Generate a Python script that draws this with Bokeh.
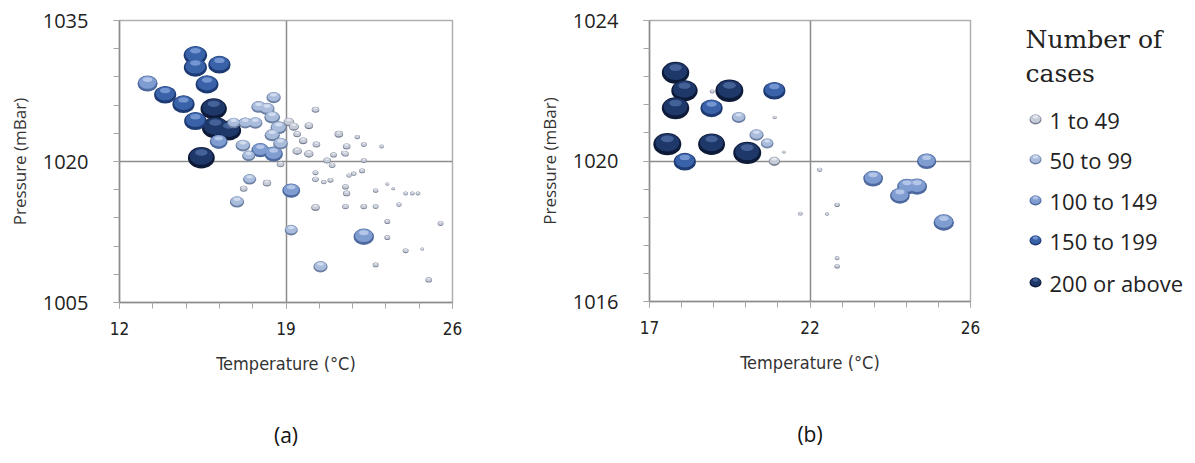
import numpy as np
import pandas as pd
from bokeh.plotting import figure
from bokeh.layouts import row
from bokeh.core.properties import value
from bokeh.models import FixedTicker, Range1d, ColumnDataSource, Title
from bokeh.embed import file_html
from bokeh.resources import INLINE

# ---------------- data ----------------
# Panel (a): temperature (°C), pressure (mBar), number of cases
temp_a = [13.18, 13.92, 14.69, 15.19, 15.19, 16.20, 15.68, 15.96, 15.19, 16.03,
          16.59, 16.17, 15.44,
          18.48, 17.85, 18.20, 18.42, 16.80, 17.29, 17.71, 18.69, 19.12, 19.33,
          18.42, 18.77, 17.19, 17.92, 18.48, 17.43, 18.77, 19.47, 19.72, 19.47,
          19.96, 20.24, 19.96, 20.28, 21.22, 21.55, 21.50, 22.00, 22.27, 23.02,
          21.00, 20.73, 20.94, 22.27, 21.43, 20.24, 20.24, 20.59, 20.87, 21.65,
          21.85, 22.20, 21.50, 21.55, 22.77, 23.26, 23.51, 24.03, 24.31, 24.55,
          23.75, 22.77, 22.27, 21.50, 20.24, 16.94, 17.47, 17.22, 18.20, 19.22,
          19.22, 20.45, 22.27, 23.26, 23.26, 24.03, 24.73, 22.77, 25.00, 25.50]
pres_a = [1028.3, 1027.1, 1026.1, 1031.3, 1030.0, 1030.3, 1028.2, 1025.6, 1024.3, 1023.6,
          1023.3, 1022.1, 1020.4,
          1026.8, 1025.8, 1025.6, 1024.7, 1024.1, 1024.1, 1024.1, 1023.6, 1024.2, 1023.7,
          1022.8, 1021.9, 1021.7, 1021.2, 1020.8, 1020.6, 1019.7, 1022.9, 1022.2, 1021.1,
          1020.8, 1025.5, 1023.8, 1021.8, 1022.9, 1021.6, 1020.8, 1022.6, 1021.8, 1021.6,
          1020.7, 1020.1, 1019.6, 1020.1, 1020.9, 1018.8, 1018.1, 1017.8, 1018.0, 1018.5,
          1018.7, 1019.0, 1017.3, 1016.6, 1016.9, 1017.6, 1017.1, 1016.6, 1016.6, 1016.6,
          1015.4, 1015.2, 1015.2, 1015.2, 1015.1, 1015.7, 1018.1, 1017.1, 1017.7, 1016.9,
          1012.7, 1008.8, 1012.0, 1013.6, 1011.9, 1010.5, 1010.7, 1009.0, 1007.4, 1013.4]
cases_a = [140, 170, 170, 190, 185, 170, 180, 240, 175, 250,
           215, 110, 250,
           70, 75, 80, 85, 60, 65, 70, 90, 40, 35,
           80, 75, 75, 110, 120, 60, 20, 20, 25, 30,
           30, 20, 25, 20, 25, 20, 15, 10, 12, 8,
           15, 20, 15, 12, 12, 12, 15, 10, 12, 10,
           10, 12, 15, 18, 10, 6, 5, 8, 8, 8,
           10, 12, 15, 15, 25, 70, 60, 20, 25, 110,
           60, 70, 145, 12, 12, 12, 5, 12, 15, 12]

# Panel (b)
temp_b = [17.73, 17.98, 17.73, 18.74, 19.24, 20.50, 19.50, 18.76, 20.51, 20.00,
          20.30, 20.50, 20.77, 17.50, 18.74, 19.74, 17.99, 21.77, 21.23, 21.98,
          22.26, 22.26, 22.26, 23.27, 24.02, 24.22, 24.50, 24.77, 25.25]
pres_b = [1022.51, 1022.00, 1021.50, 1021.50, 1022.00, 1022.00, 1021.24, 1021.98, 1021.24, 1020.74,
          1020.50, 1019.99, 1020.25, 1020.48, 1020.48, 1020.23, 1019.98, 1019.75, 1018.50, 1018.49,
          1018.75, 1017.23, 1017.00, 1019.50, 1019.01, 1019.27, 1019.27, 1019.99, 1018.25]
cases_b = [260, 240, 260, 170, 270, 170, 65, 8, 6, 70,
           55, 45, 4, 270, 250, 270, 170, 10, 8, 6,
           10, 8, 10, 135, 135, 135, 140, 130, 145]

categories = ["1 to 49", "50 to 99", "100 to 149", "150 to 199", "200 or above"]
cat_lower = [1, 50, 100, 150, 200]
legend_title = ["Number of", "cases"]

xa_ticks = [12, 19, 26]
ya_ticks = [1005, 1020, 1035]
xb_ticks = [17, 21.5, 26]
xb_tick_labels = ["17", "22", "26"]
yb_ticks = [1016, 1020, 1024]

# ---------------- style ----------------
BASE = ["#c6cbd8", "#a9bcdc", "#809dd1", "#3a62a9", "#1f386a"]
DARK = ["#777f92", "#6c80a4", "#4d69a0", "#1d3a73", "#0d1a38"]
LIGHT = ["#ffffff", "#f3f7fd", "#dde8fb", "#a2c0f2", "#6585bd"]
SIZE_K = 1.7
ASPECT = 0.8
GRID = "#8c8c8c"
NARROW = "'Liberation Sans Narrow', 'DejaVu Sans Condensed', sans-serif"


def bubble_frame(temps, press, cases):
    df = pd.DataFrame(dict(x=temps, y=press, c=cases))
    df["cat"] = np.searchsorted(cat_lower, df["c"], side="right") - 1
    df["w"] = SIZE_K * np.sqrt(df["c"])
    df["h"] = df["w"] * ASPECT
    return df


def draw_bubbles(p, df, ppu_y):
    """3-layer shaded bubbles; ppu_y = screen px per data unit (sign = up)."""
    for ci in reversed(range(len(categories))):
        d = df[df["cat"] == ci].copy()
        if d.empty:
            continue
        d["w_body"] = d["w"] * 0.86
        d["h_body"] = d["h"] * 0.80
        d["y_body"] = d["y"] + 0.07 * d["h"] / ppu_y
        d["w_hl"] = d["w"] * 0.46
        d["h_hl"] = d["h"] * 0.30
        d["y_hl"] = d["y"] + 0.24 * d["h"] / ppu_y
        src = ColumnDataSource(d)
        p.ellipse(x="x", y="y", width="w", height="h", width_units="screen",
                  height_units="screen", source=src, fill_color=DARK[ci],
                  line_color=None)
        p.ellipse(x="x", y="y_body", width="w_body", height="h_body",
                  width_units="screen", height_units="screen", source=src,
                  fill_color=BASE[ci], line_color=None)
        p.ellipse(x="x", y="y_hl", width="w_hl", height="h_hl",
                  width_units="screen", height_units="screen", source=src,
                  fill_color=LIGHT[ci], fill_alpha=0.55, line_color=None)


def make_panel(xt, yt, left, frame_w, frame_h, top, right, x_overrides, tag):
    p = figure(frame_width=frame_w, frame_height=frame_h,
               min_border_left=left, min_border_right=right,
               min_border_top=top, min_border_bottom=463 - top - frame_h,
               x_range=Range1d(xt[0], xt[-1]), y_range=Range1d(yt[0], yt[-1]),
               output_backend="svg", toolbar_location=None)
    p.xaxis.ticker = FixedTicker(ticks=xt, minor_ticks=list(np.linspace(xt[0], xt[-1], 11)))
    p.yaxis.ticker = FixedTicker(ticks=yt, minor_ticks=list(np.linspace(yt[0], yt[-1], 11)))
    if x_overrides:
        p.xaxis.major_label_overrides = x_overrides
    for ax in (p.xaxis[0], p.yaxis[0]):
        ax.axis_line_color = GRID
        ax.axis_line_width = 1.5
        ax.major_tick_line_color = "#a6a6a6"
        ax.minor_tick_line_color = "#a6a6a6"
        ax.major_tick_in = 0
        ax.minor_tick_in = 0
        ax.major_tick_out = 6
        ax.minor_tick_out = 6
        ax.axis_label_text_font_style = "normal"
        ax.axis_label_text_color = "#333333"
        ax.major_label_text_color = "#222222"
    p.yaxis.major_label_text_font = "Open Sans"
    p.yaxis.major_label_text_font_size = "20px"
    p.yaxis.major_label_standoff = 25
    p.yaxis.axis_label = "Pressure (mBar)"
    p.yaxis.axis_label_text_font = "Open Sans"
    p.yaxis.axis_label_text_font_size = "17px"
    p.yaxis.axis_label_standoff = 9
    p.xaxis.major_label_text_font = NARROW
    p.xaxis.major_label_text_font_size = "17px"
    p.xaxis.major_label_standoff = 13
    p.xaxis.axis_label = "Temperature (°C)"
    p.xaxis.axis_label_text_font = NARROW
    p.xaxis.axis_label_text_font_size = "18px"
    p.xaxis.axis_label_standoff = 15
    p.xgrid.grid_line_color = GRID
    p.ygrid.grid_line_color = GRID
    p.xgrid.grid_line_width = 1.5
    p.ygrid.grid_line_width = 1.5
    p.outline_line_color = "#b0b0b0"
    p.outline_line_width = 1.5
    p.add_layout(Title(text=tag, align="center", text_font="Open Sans",
                       text_font_size="21px", text_font_style="normal",
                       text_color="#111111", standoff=84), "below")
    return p


df_a = bubble_frame(temp_a, pres_a, cases_a)
df_b = bubble_frame(temp_b, pres_b, cases_b)

pa = make_panel(xa_ticks, ya_ticks, 119, 333, 282, 20, 68, None, "(a)")
draw_bubbles(pa, df_a, 282 / (ya_ticks[-1] - ya_ticks[0]))

pb = make_panel(xb_ticks, yb_ticks, 129, 321, 281, 18, 20,
                dict(zip(xb_ticks, xb_tick_labels)), "(b)")
draw_bubbles(pb, df_b, 281 / (yb_ticks[-1] - yb_ticks[0]))

# ---------------- legend panel (drawn with glyphs, pixel layout) ----------------
LEG_TOP, LEG_H = 18, 281            # same frame as panel (b)
pl = figure(frame_width=205, frame_height=LEG_H, min_border_left=0,
            min_border_right=0, min_border_top=LEG_TOP,
            min_border_bottom=463 - LEG_TOP - LEG_H,
            x_range=Range1d(0, 205), y_range=Range1d(LEG_TOP + LEG_H, LEG_TOP),
            output_backend="svg", toolbar_location=None)
pl.axis.visible = False
pl.grid.visible = False
pl.outline_line_color = None

item_y = [117, 157, 198, 238, 280]          # layout rows (pixels from top)
sw = pd.DataFrame(dict(x=[45] * len(categories), y=item_y,
                       w=[12] * len(categories), h=[10] * len(categories),
                       cat=list(range(len(categories)))))
for ci in range(len(categories)):
    d = sw[sw["cat"] == ci].copy()
    d["c"] = 1
    draw_bubbles(pl, d.assign(cat=ci), -1.0)

pl.text(x="x", y="y", text="text",
        source=ColumnDataSource(dict(x=[59] * len(categories), y=item_y,
                                     text=categories)),
        text_baseline="middle", text_align="left",
        text_font=value("Open Sans"), text_font_size="22px",
        text_color="#222222")
pl.text(x="x", y="y", text="text",
        source=ColumnDataSource(dict(x=[35, 35], y=[37, 71], text=legend_title)),
        text_baseline="middle", text_align="left",
        text_font=value("DejaVu Serif"), text_font_size="25px",
        text_color="#222222")

layout = row(pa, pb, pl)
open("out.html", "w").write(file_html(layout, INLINE))
